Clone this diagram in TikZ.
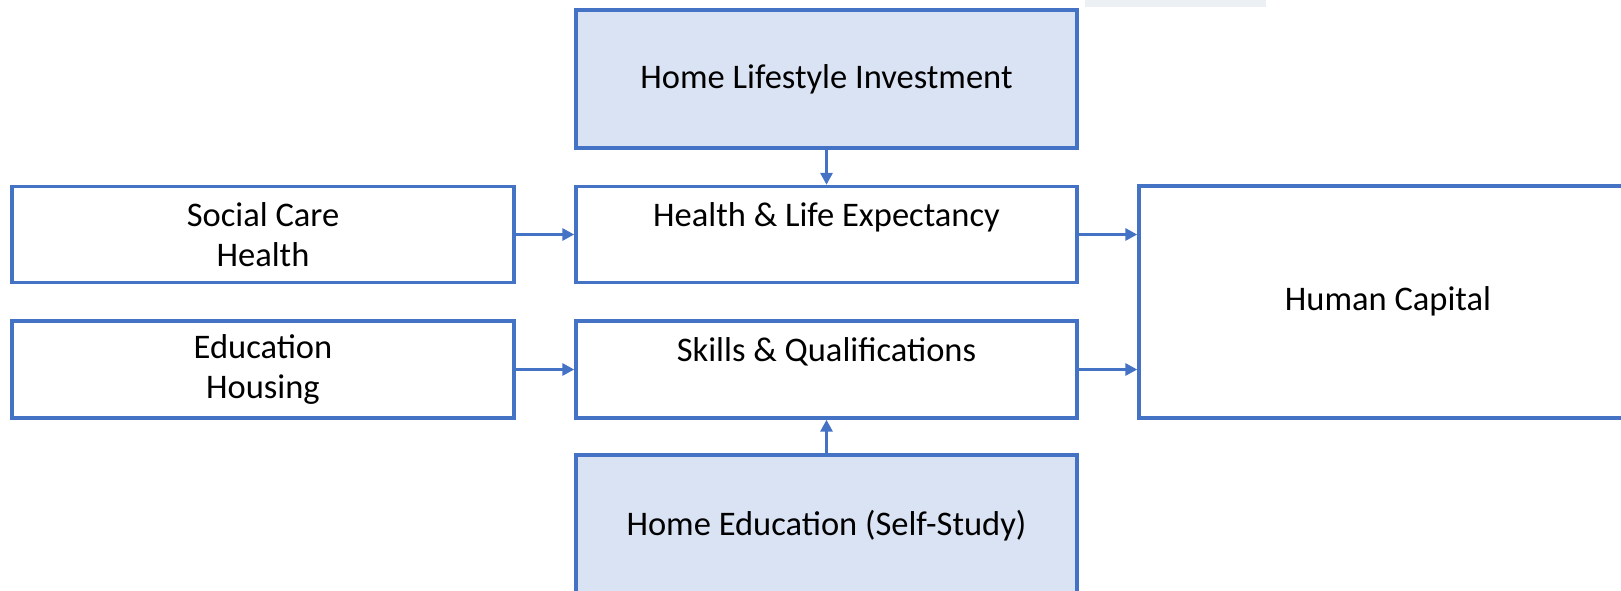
\documentclass[tikz,border=0pt]{standalone}
\usepackage{fontspec}
\setmainfont{Carlito}
\usetikzlibrary{arrows.meta}
\definecolor{bord}{HTML}{4472C4}
\definecolor{lfill}{HTML}{DAE3F3}
\definecolor{band}{HTML}{ECEFF3}
\begin{document}
\begin{tikzpicture}[x=1pt,y=-1pt,
  box/.style={draw=bord, line width=3.4pt, rectangle, inner sep=0pt, align=center,
    font=\fontsize{34.5}{40}\selectfont, text=black},
  homebox/.style={box, fill=lfill},
  conn/.style={draw=bord, line width=3pt, -{Triangle[length=12pt,width=12pt]}}]
\clip (0,0) rectangle (1621,590);
\fill[band] (1085,0) rectangle (1266,7);
\node[homebox, minimum width=501pt, minimum height=138pt] (hli) at (826.5,79) {Home Lifestyle Investment};
\node[box, minimum width=501pt, minimum height=96pt] (hle) at (826.5,234.5) {Health \& Life Expectancy\\\mbox{}};
\node[box, minimum width=501pt, minimum height=97pt] (sq) at (826.5,369.5) {Skills \& Qualifications\\\mbox{}};
\node[homebox, minimum width=501pt, minimum height=141pt] (he) at (826.5,525.5) {Home Education (Self-Study)};
\node[box, minimum width=502pt, minimum height=96pt] (sc) at (263,234.5) {Social Care\\Health};
\node[box, minimum width=502pt, minimum height=97pt] (ed) at (263,369.5) {Education\\Housing};
\node[box, minimum width=498pt, minimum height=232pt, text depth=6pt] (hc) at (1388,302) {Human Capital};
\draw[conn] (hli.south) -- (hle.north);
\draw[conn] (sc.east) -- (hle.west);
\draw[conn] (ed.east) -- (sq.west);
\draw[conn] (he.north) -- (sq.south);
\draw[conn] (hle.east) -- (hle.east -| hc.west);
\draw[conn] (sq.east) -- (sq.east -| hc.west);
\end{tikzpicture}
\end{document}
